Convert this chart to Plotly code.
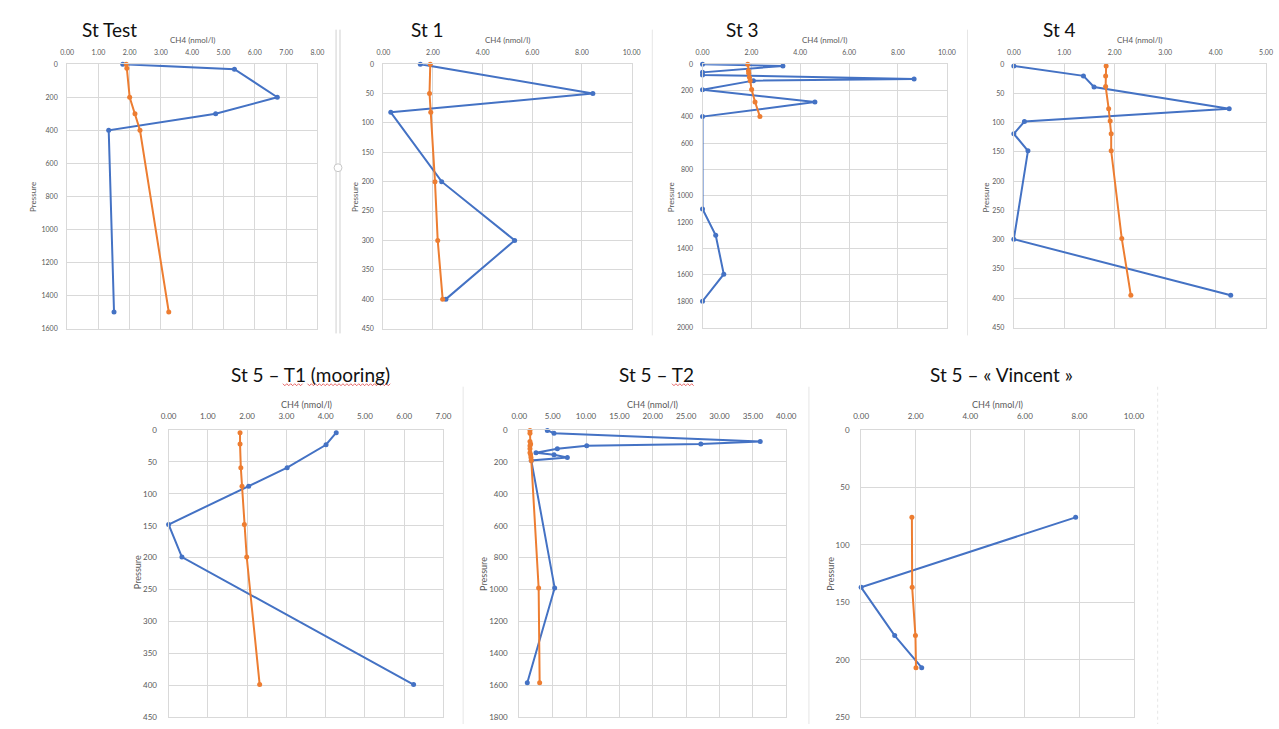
import plotly.graph_objects as go

W, H = 1279, 729

# ---------------- data ----------------
titles = ["St Test", "St 1", "St 3", "St 4",
          "St 5 – T1 (mooring)", "St 5 – T2", "St 5 – « Vincent »"]

# St Test
test_p_blue = [0, 30, 200, 300, 400, 1500]
test_ch4_blue = [1.78, 5.35, 6.72, 4.75, 1.33, 1.50]
test_p_orange = [0, 25, 200, 300, 400, 1500]
test_ch4_orange = [1.89, 1.91, 2.00, 2.17, 2.33, 3.25]

# St 1
st1_p_blue = [0, 50, 82, 200, 300, 400]
st1_ch4_blue = [1.49, 8.44, 0.30, 2.35, 5.29, 2.52]
st1_p_orange = [0, 50, 82, 200, 300, 400]
st1_ch4_orange = [1.89, 1.86, 1.91, 2.08, 2.19, 2.39]

# St 3
st3_p_blue = [0, 13, 62, 82, 112, 125, 195, 288, 398, 1100, 1300, 1595, 1800]
st3_ch4_blue = [0.00, 3.29, 0.00, 0.00, 8.66, 2.08, 0.00, 4.60, 0.00, 0.00, 0.54, 0.87, 0.00]
st3_p_orange = [0, 50, 68, 100, 125, 193, 287, 398]
st3_ch4_orange = [1.85, 1.88, 1.89, 1.92, 1.95, 2.01, 2.15, 2.35]

# St 4
st4_p_blue = [3, 20, 39, 76, 98, 119, 148, 299, 395]
st4_ch4_blue = [0.00, 1.38, 1.59, 4.27, 0.21, 0.00, 0.28, 0.00, 4.30]
st4_p_orange = [3, 20, 38, 76, 97, 119, 148, 298, 395]
st4_ch4_orange = [1.83, 1.82, 1.82, 1.88, 1.91, 1.93, 1.93, 2.14, 2.32]

# St 5 - T1 (mooring)
t1_p_blue = [4, 23, 59, 88, 148, 199, 399]
t1_ch4_blue = [4.27, 4.01, 3.02, 2.04, 0.00, 0.34, 6.24]
t1_p_orange = [4, 22, 59, 88, 148, 199, 399]
t1_ch4_orange = [1.82, 1.82, 1.84, 1.87, 1.93, 1.99, 2.32]

# St 5 - T2
t2_p_blue = [2, 20, 72, 88, 98, 117, 142, 155, 172, 190, 990, 1585]
t2_ch4_blue = [4.2, 5.2, 36.1, 27.2, 10.1, 5.7, 2.5, 5.2, 7.2, 1.8, 5.3, 1.2]
t2_p_orange = [2, 20, 72, 88, 98, 117, 142, 155, 172, 190, 990, 1585]
t2_ch4_orange = [1.6, 1.6, 1.6, 1.7, 1.6, 1.6, 1.6, 1.7, 1.75, 1.8, 2.9, 3.05]

# St 5 - Vincent
vin_p_blue = [76, 137, 179, 207]
vin_ch4_blue = [7.86, 0.00, 1.23, 2.22]
vin_p_orange = [76, 137, 179, 207]
vin_ch4_orange = [1.86, 1.87, 1.99, 2.01]

x_max = [8, 10, 10, 5, 7, 40, 10]
x_dtick = [1, 2, 2, 1, 1, 5, 2]
y_max = [1600, 450, 2000, 450, 450, 1800, 250]
y_dtick = [200, 50, 200, 50, 50, 200, 50]

series = [
    (test_p_blue, test_ch4_blue, test_p_orange, test_ch4_orange),
    (st1_p_blue, st1_ch4_blue, st1_p_orange, st1_ch4_orange),
    (st3_p_blue, st3_ch4_blue, st3_p_orange, st3_ch4_orange),
    (st4_p_blue, st4_ch4_blue, st4_p_orange, st4_ch4_orange),
    (t1_p_blue, t1_ch4_blue, t1_p_orange, t1_ch4_orange),
    (t2_p_blue, t2_ch4_blue, t2_p_orange, t2_ch4_orange),
    (vin_p_blue, vin_ch4_blue, vin_p_orange, vin_ch4_orange),
]

# ---------------- layout (pixel boxes of each plot area) ----------------
boxes = [  # x0, x1, y0(top), y1(bottom)
    (60, 314, 60, 328),
    (381, 633, 60, 328),
    (705, 953, 60, 327),
    (1021, 1277, 60, 327),
    (163, 442, 431, 722),
    (519, 790, 431, 722),
    (866, 1143, 431, 722),
]
title_pos = [(103, 25), (426, 25), (746, 25), (1067, 25),
             (307, 375), (658, 375), (1008, 375)]
ytitle_pos = [(26, 195), (353, 195), (673, 195), (993, 195),
              (131, 575), (482, 577), (834, 577)]
# spell-check squiggles under some title words: (x start, x end, y)
squiggles = [(279, 300, 385), (304, 388, 385), (674, 697, 385)]

BLUE = "#4472C4"
ORANGE = "#ED7D31"
GRID = "#D9D9D9"
TXT = "#595959"
FONT = "Lato"

def px(x):
    return x / W

def py(y):
    return 1 - y / H

fig = go.Figure()
layout = dict(
    width=W, height=H, margin=dict(l=0, r=0, t=0, b=0),
    paper_bgcolor="white", plot_bgcolor="white", showlegend=False,
    font=dict(family=FONT, color=TXT),
)
annotations = []

for i, (pb, cb, po, co) in enumerate(series):
    k = "" if i == 0 else str(i + 1)
    fig.add_trace(go.Scatter(x=cb, y=pb, mode="lines+markers", name="CH4",
                             line=dict(color=BLUE, width=2),
                             marker=dict(color=BLUE, size=5),
                             xaxis="x" + k, yaxis="y" + k, cliponaxis=False))
    fig.add_trace(go.Scatter(x=co, y=po, mode="lines+markers", name="CH4 eq",
                             line=dict(color=ORANGE, width=2),
                             marker=dict(color=ORANGE, size=5),
                             xaxis="x" + k, yaxis="y" + k, cliponaxis=False))
    x0, x1, y0, y1 = boxes[i]
    top = i < 4
    fs = 7 if top else 8
    layout["xaxis" + k] = dict(
        domain=[px(x0), px(x1)], anchor="y" + k, side="top",
        range=[0, x_max[i]], dtick=x_dtick[i], tick0=0, tickformat=".2f",
        showgrid=True, gridcolor=GRID, gridwidth=1, zeroline=False,
        showline=True, linecolor=GRID, mirror=True,
        ticks="outside", ticklen=5 if top else 7, tickcolor="rgba(0,0,0,0)",
        tickfont=dict(size=fs, color=TXT, family=FONT),
    )
    layout["yaxis" + k] = dict(
        domain=[py(y1), py(y0)], anchor="x" + k,
        range=[y_max[i], 0], dtick=y_dtick[i], tick0=0,
        showgrid=True, gridcolor=GRID, gridwidth=1, zeroline=False,
        showline=True, linecolor=GRID, mirror=True,
        ticks="outside", ticklen=7 if top else 9, tickcolor="rgba(0,0,0,0)",
        tickfont=dict(size=fs, color=TXT, family=FONT),
    )
    tx, ty = title_pos[i]
    annotations.append(dict(text=titles[i], x=px(tx), y=py(ty), xref="paper", yref="paper",
                            xanchor="center", yanchor="middle", showarrow=False,
                            font=dict(size=19, color="#111111", family=FONT)))
    annotations.append(dict(text="CH4 (nmol/l)", x=px((x0 + x1) / 2), y=py(35 if top else 405),
                            xref="paper", yref="paper", xanchor="center", yanchor="middle",
                            showarrow=False, font=dict(size=8 if top else 9, color=TXT, family=FONT)))
    yx, yy = ytitle_pos[i]
    annotations.append(dict(text="Pressure", x=px(yx), y=py(yy), xref="paper", yref="paper",
                            xanchor="center", yanchor="middle", textangle=-90, showarrow=False,
                            font=dict(size=8 if top else 9, color=TXT, family=FONT)))

shapes = []
def vline(x, ya, yb, color="#D0D0D0", width=1, dash="solid"):
    shapes.append(dict(type="line", xref="paper", yref="paper", x0=px(x), x1=px(x),
                       y0=py(ya), y1=py(yb), line=dict(color=color, width=width, dash=dash)))

vline(333, 25, 333)
vline(337, 25, 333)
vline(654, 25, 335, color="#E6E6E6")
vline(974, 25, 335, color="#E6E6E6")
vline(462, 387, 729, color="#E6E6E6")
vline(813, 387, 729, color="#E6E6E6")
vline(1167, 387, 729, color="#E6E6E6", dash="dot")
shapes.append(dict(type="circle", xref="paper", yref="paper",
                   x0=px(331), x1=px(339), y0=py(169), y1=py(161),
                   line=dict(color="#C8C8C8", width=1), fillcolor="white"))

for sx0, sx1, sy in squiggles:
    pts = []
    xx = sx0
    up = True
    while xx <= sx1:
        pts.append((xx, sy - 1 if up else sy + 1))
        xx += 2
        up = not up
    path = "M " + " L ".join(f"{px(a):.5f},{py(b):.5f}" for a, b in pts)
    shapes.append(dict(type="path", xref="paper", yref="paper", path=path,
                       line=dict(color="#E04040", width=0.8)))

layout["annotations"] = annotations
layout["shapes"] = shapes
fig.update_layout(**layout)
fig.write_html("out.html", config={"displayModeBar": False},
               post_script="document.body.style.margin='0';document.body.style.overflow='hidden';")
